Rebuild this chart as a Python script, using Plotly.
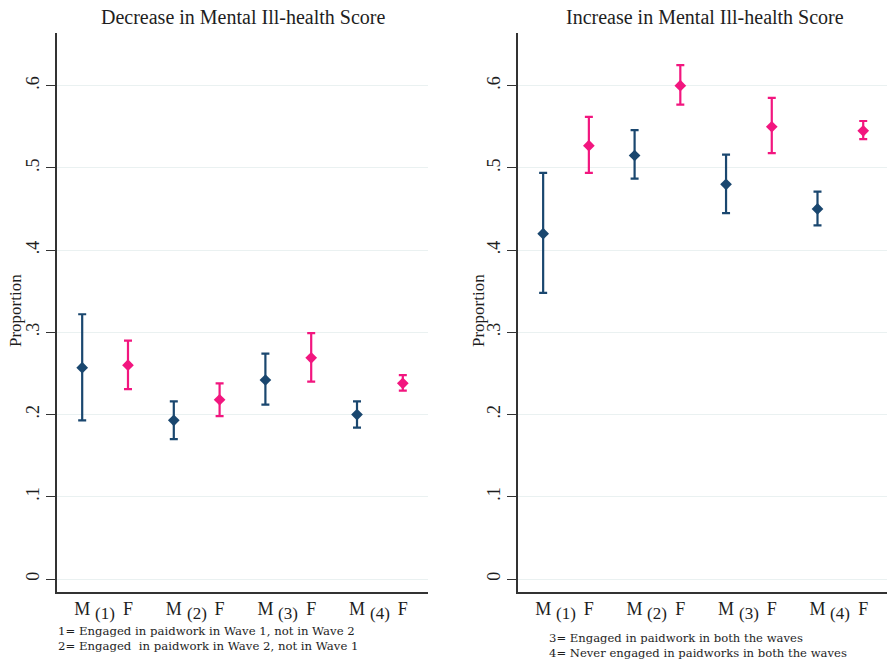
import plotly.graph_objects as go

# ---- data ----
groups = ["(1)", "(2)", "(3)", "(4)"]
sexes = ["M", "F"]
panel_titles = ["Decrease in Mental Ill-health Score", "Increase in Mental Ill-health Score"]

dec_male = [0.257, 0.193, 0.242, 0.200]
dec_male_lo = [0.193, 0.170, 0.212, 0.184]
dec_male_hi = [0.322, 0.216, 0.274, 0.216]
dec_female = [0.260, 0.218, 0.269, 0.238]
dec_female_lo = [0.231, 0.198, 0.240, 0.229]
dec_female_hi = [0.290, 0.238, 0.299, 0.248]

inc_male = [0.420, 0.515, 0.480, 0.450]
inc_male_lo = [0.348, 0.487, 0.445, 0.430]
inc_male_hi = [0.494, 0.546, 0.516, 0.471]
inc_female = [0.527, 0.600, 0.550, 0.545]
inc_female_lo = [0.494, 0.577, 0.518, 0.535]
inc_female_hi = [0.562, 0.625, 0.585, 0.557]

ytick_vals = [0, 0.1, 0.2, 0.3, 0.4, 0.5, 0.6]
ytick_text = ["0", ".1", ".2", ".3", ".4", ".5", ".6"]
y_title = "Proportion"
notes_left = ["1= Engaged in paidwork in Wave 1, not in Wave 2",
              "2= Engaged  in paidwork in Wave 2, not in Wave 1"]
notes_right = ["3= Engaged in paidwork in both the waves",
               "4= Never engaged in paidworks in both the waves"]

NAVY = "#1a476f"
PINK = "#f2167f"
FONT = "Liberation Serif"
NOTE_FONT = "DejaVu Serif"
TXT = "#1e1e1e"
W, H = 887, 663


def px(x):
    return x / W


def py(y):
    return 1 - y / H


male_x = [2 * i + 1 for i in range(len(groups))]
female_x = [2 * i + 2 for i in range(len(groups))]

fig = go.Figure()

panels = [
    (dec_male, dec_male_lo, dec_male_hi, dec_female, dec_female_lo, dec_female_hi, "x", "y"),
    (inc_male, inc_male_lo, inc_male_hi, inc_female, inc_female_lo, inc_female_hi, "x2", "y2"),
]


def add_series(xs, est, lo, hi, color, xa, ya, name):
    fig.add_trace(go.Scatter(
        x=xs, y=est, mode="markers", name=name, showlegend=False,
        xaxis=xa, yaxis=ya,
        marker=dict(symbol="diamond", size=9, color=color),
        error_y=dict(type="data", symmetric=False,
                     array=[h - e for h, e in zip(hi, est)],
                     arrayminus=[e - l for e, l in zip(est, lo)],
                     color=color, thickness=2.2, width=4),
    ))


for (m, mlo, mhi, f, flo, fhi, xa, ya) in panels:
    add_series(male_x, m, mlo, mhi, NAVY, xa, ya, "M")
    add_series(female_x, f, flo, fhi, PINK, xa, ya, "F")

xtick_vals = male_x + female_x
xtick_text = [sexes[0]] * len(male_x) + [sexes[1]] * len(female_x)

ydom = [py(592), py(33)]
yrange = [-0.0158, 0.664]

common_x = dict(showgrid=False, zeroline=False, showline=True,
                linecolor="#333333", linewidth=1.6, ticks="",
                tickvals=xtick_vals, ticktext=xtick_text,
                tickfont=dict(family=FONT, size=18, color=TXT))
common_y = dict(range=yrange, domain=ydom, showgrid=True, gridcolor="#eaf1f1", gridwidth=1,
                zeroline=False, showline=True, linecolor="#333333", linewidth=1.6,
                ticks="outside", ticklen=9, tickwidth=1.3, tickcolor="#333333",
                tickvals=ytick_vals, ticktext=ytick_text, tickangle=-90,
                tickfont=dict(family=FONT, size=18, color=TXT))

fig.update_layout(
    width=W, height=H, margin=dict(l=0, r=0, t=0, b=0),
    paper_bgcolor="white", plot_bgcolor="white",
    xaxis=dict(domain=[px(57), px(428)], range=[0.45, 8.55], anchor="y", **common_x),
    yaxis=dict(anchor="x", **common_y),
    xaxis2=dict(domain=[px(518), 1.0], range=[0.45, 8.52], anchor="y2", **common_x),
    yaxis2=dict(anchor="x2", **common_y),
)

annotations = []
# panel titles
for title, cx in zip(panel_titles, [243, 705]):
    annotations.append(dict(text=title, x=px(cx), y=py(17), xref="paper", yref="paper",
                            showarrow=False, font=dict(family=FONT, size=20, color=TXT),
                            xanchor="center", yanchor="middle"))
# y titles
for tx in [15, 478]:
    annotations.append(dict(text=y_title, x=px(tx), y=py(311), xref="paper", yref="paper",
                            showarrow=False, textangle=-90,
                            font=dict(family=FONT, size=17, color=TXT),
                            xanchor="center", yanchor="middle"))
# group labels between M and F
for xa in ["x", "x2"]:
    for g, mx, fx in zip(groups, male_x, female_x):
        annotations.append(dict(text=g, x=(mx + fx) / 2, y=py(613), xref=xa, yref="paper",
                                showarrow=False, font=dict(family=FONT, size=17, color=TXT),
                                xanchor="center", yanchor="middle"))
# footnotes
for i, t in enumerate(notes_left):
    annotations.append(dict(text=t, x=px(56), y=py(631 + 15 * i), xref="paper", yref="paper",
                            showarrow=False, font=dict(family=NOTE_FONT, size=11.7, color=TXT),
                            xanchor="left", yanchor="middle"))
for i, t in enumerate(notes_right):
    annotations.append(dict(text=t, x=px(547), y=py(638 + 15 * i), xref="paper", yref="paper",
                            showarrow=False, font=dict(family=NOTE_FONT, size=11.6, color=TXT),
                            xanchor="left", yanchor="middle"))

fig.update_layout(annotations=annotations)
fig.write_html("out.html", config={"displayModeBar": False},
               post_script="document.body.style.margin='0px';document.body.style.overflow='hidden';")
